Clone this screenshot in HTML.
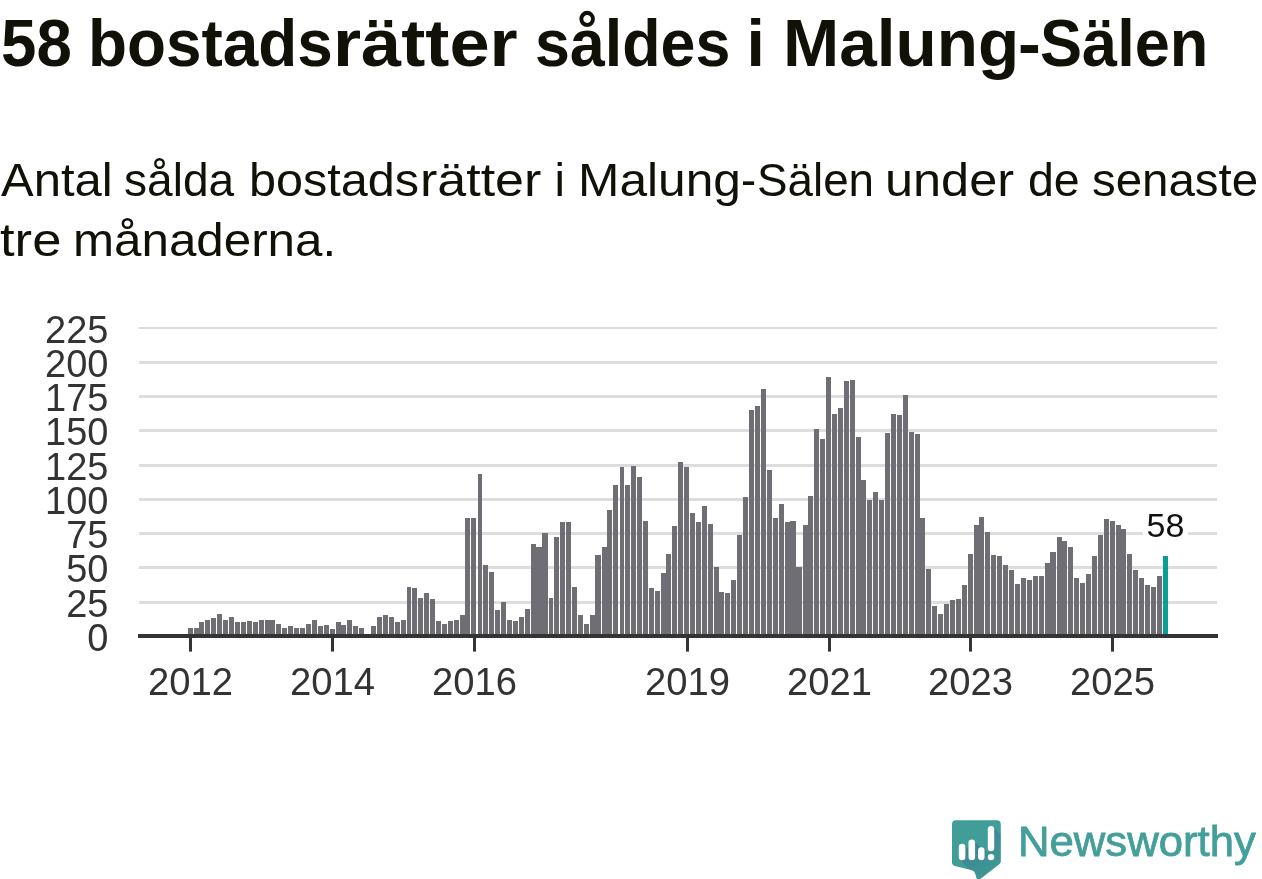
<!DOCTYPE html>
<html lang="sv">
<head>
<meta charset="utf-8">
<title>58 bostadsrätter såldes i Malung-Sälen</title>
<style>
html,body{margin:0;padding:0;background:#fff;}
body{width:1262px;height:879px;position:relative;overflow:hidden;font-family:"Liberation Sans", sans-serif;color:#111108;}
.w{position:absolute;top:0;white-space:nowrap;transform-origin:0 0;line-height:1;}
#title{font-weight:bold;font-size:66px;}
#sub1,#sub2{font-size:47px;}
#logot{font-size:42.5px;color:#449f9a;-webkit-text-stroke:0.8px #449f9a;}
.ln{position:absolute;left:0;height:0;width:1262px;margin:0;}
svg{position:absolute;left:0;top:0;}
.ax{font-family:"Liberation Sans", sans-serif;font-size:38px;fill:#333333;}
.xx{font-size:38.2px;}
.val{font-family:"Liberation Sans", sans-serif;font-size:34px;fill:#111;stroke:#fff;stroke-width:11px;paint-order:stroke;stroke-linejoin:round;}
</style>
</head>
<body>
<h1 class="ln" id="title" style="top:9.8px"><span class="w" style="left:0.77px;transform:scaleX(0.9652)">58</span> <span class="w" style="left:88.03px;transform:scaleX(0.9675)">bostads</span><span class="w" style="left:332.92px;transform:scaleX(1.0945)">rätter</span> <span class="w" style="left:534.75px;transform:scaleX(0.951)">såldes</span> <span class="w" style="left:746.6px;transform:scaleX(1.0)">i</span> <span class="w" style="left:783.11px;transform:scaleX(1.0224)">Malung</span><span class="w" style="left:1018.29px;transform:scaleX(1.0375)">-</span><span class="w" style="left:1040.39px;transform:scaleX(0.9565)">Sälen</span></h1>
<p class="ln" id="sub1" style="top:155.7px"><span class="w" style="left:0.5px;transform:scaleX(1.0433)">Antal</span> <span class="w" style="left:123.54px;transform:scaleX(0.98)">sålda</span> <span class="w" style="left:248.7px;transform:scaleX(1.0331)">bostads</span><span class="w" style="left:419.88px;transform:scaleX(1.1057)">rätter</span> <span class="w" style="left:554.6px;transform:scaleX(1.0)">i</span> <span class="w" style="left:577.97px;transform:scaleX(1.0571)">Malung</span><span class="w" style="left:741.17px;transform:scaleX(0.9667)">-</span><span class="w" style="left:756.55px;transform:scaleX(0.9739)">Sälen</span> <span class="w" style="left:885.08px;transform:scaleX(1.0733)">under</span> <span class="w" style="left:1027.72px;transform:scaleX(0.9896)">de</span> <span class="w" style="left:1092.38px;transform:scaleX(1.0093)">senaste</span></p>
<p class="ln" id="sub2" style="top:215.7px"><span class="w" style="left:-0.32px;transform:scaleX(1.1192)">tre</span> <span class="w" style="left:73.35px;transform:scaleX(1.0488)">månaderna.</span></p>
<div class="ln" id="logot" style="top:821.3px"><span class="w" style="left:1018.42px;transform:scaleX(1.0275)">Newsworthy</span></div>
<svg width="1262" height="879" viewBox="0 0 1262 879" shape-rendering="crispEdges">
<rect x="139" y="327" width="1078" height="2" fill="#dddddd"/>
<rect x="139" y="361" width="1078" height="3" fill="#dddddd"/>
<rect x="139" y="395" width="1078" height="3" fill="#dddddd"/>
<rect x="139" y="429" width="1078" height="3" fill="#dddddd"/>
<rect x="139" y="464" width="1078" height="3" fill="#dddddd"/>
<rect x="139" y="498" width="1078" height="3" fill="#dddddd"/>
<rect x="139" y="532" width="1078" height="3" fill="#dddddd"/>
<rect x="139" y="566" width="1078" height="3" fill="#dddddd"/>
<rect x="139" y="601" width="1078" height="3" fill="#dddddd"/>
<rect x="188" y="628" width="5" height="8" fill="#6f6e75"/>
<rect x="194" y="628" width="5" height="8" fill="#6f6e75"/>
<rect x="199" y="622" width="5" height="14" fill="#6f6e75"/>
<rect x="205" y="620" width="5" height="16" fill="#6f6e75"/>
<rect x="211" y="618" width="5" height="18" fill="#6f6e75"/>
<rect x="217" y="614" width="5" height="22" fill="#6f6e75"/>
<rect x="223" y="620" width="5" height="16" fill="#6f6e75"/>
<rect x="229" y="617" width="5" height="19" fill="#6f6e75"/>
<rect x="235" y="622" width="5" height="14" fill="#6f6e75"/>
<rect x="241" y="622" width="5" height="14" fill="#6f6e75"/>
<rect x="247" y="621" width="5" height="15" fill="#6f6e75"/>
<rect x="253" y="622" width="5" height="14" fill="#6f6e75"/>
<rect x="259" y="620" width="5" height="16" fill="#6f6e75"/>
<rect x="265" y="620" width="5" height="16" fill="#6f6e75"/>
<rect x="270" y="620" width="5" height="16" fill="#6f6e75"/>
<rect x="276" y="624" width="5" height="12" fill="#6f6e75"/>
<rect x="282" y="628" width="5" height="8" fill="#6f6e75"/>
<rect x="288" y="626" width="5" height="10" fill="#6f6e75"/>
<rect x="294" y="628" width="5" height="8" fill="#6f6e75"/>
<rect x="300" y="628" width="5" height="8" fill="#6f6e75"/>
<rect x="306" y="624" width="5" height="12" fill="#6f6e75"/>
<rect x="312" y="620" width="5" height="16" fill="#6f6e75"/>
<rect x="318" y="626" width="5" height="10" fill="#6f6e75"/>
<rect x="324" y="625" width="5" height="11" fill="#6f6e75"/>
<rect x="330" y="629" width="5" height="7" fill="#6f6e75"/>
<rect x="336" y="622" width="5" height="14" fill="#6f6e75"/>
<rect x="341" y="625" width="5" height="11" fill="#6f6e75"/>
<rect x="347" y="620" width="5" height="16" fill="#6f6e75"/>
<rect x="353" y="626" width="5" height="10" fill="#6f6e75"/>
<rect x="359" y="628" width="5" height="8" fill="#6f6e75"/>
<rect x="371" y="626" width="5" height="10" fill="#6f6e75"/>
<rect x="377" y="617" width="5" height="19" fill="#6f6e75"/>
<rect x="383" y="615" width="5" height="21" fill="#6f6e75"/>
<rect x="389" y="617" width="5" height="19" fill="#6f6e75"/>
<rect x="395" y="622" width="5" height="14" fill="#6f6e75"/>
<rect x="401" y="620" width="5" height="16" fill="#6f6e75"/>
<rect x="407" y="587" width="4" height="49" fill="#6f6e75"/>
<rect x="412" y="588" width="5" height="48" fill="#6f6e75"/>
<rect x="418" y="598" width="5" height="38" fill="#6f6e75"/>
<rect x="424" y="593" width="5" height="43" fill="#6f6e75"/>
<rect x="430" y="599" width="5" height="37" fill="#6f6e75"/>
<rect x="436" y="621" width="5" height="15" fill="#6f6e75"/>
<rect x="442" y="624" width="5" height="12" fill="#6f6e75"/>
<rect x="448" y="621" width="5" height="15" fill="#6f6e75"/>
<rect x="454" y="620" width="5" height="16" fill="#6f6e75"/>
<rect x="460" y="615" width="5" height="21" fill="#6f6e75"/>
<rect x="465" y="518" width="5" height="118" fill="#6f6e75"/>
<rect x="471" y="518" width="5" height="118" fill="#6f6e75"/>
<rect x="478" y="474" width="4" height="162" fill="#6f6e75"/>
<rect x="483" y="565" width="5" height="71" fill="#6f6e75"/>
<rect x="489" y="572" width="5" height="64" fill="#6f6e75"/>
<rect x="495" y="610" width="5" height="26" fill="#6f6e75"/>
<rect x="501" y="602" width="5" height="34" fill="#6f6e75"/>
<rect x="507" y="620" width="5" height="16" fill="#6f6e75"/>
<rect x="513" y="621" width="5" height="15" fill="#6f6e75"/>
<rect x="519" y="617" width="5" height="19" fill="#6f6e75"/>
<rect x="525" y="609" width="5" height="27" fill="#6f6e75"/>
<rect x="531" y="544" width="5" height="92" fill="#6f6e75"/>
<rect x="536" y="547" width="6" height="89" fill="#6f6e75"/>
<rect x="542" y="533" width="6" height="103" fill="#6f6e75"/>
<rect x="549" y="598" width="4" height="38" fill="#6f6e75"/>
<rect x="554" y="537" width="5" height="99" fill="#6f6e75"/>
<rect x="560" y="522" width="5" height="114" fill="#6f6e75"/>
<rect x="566" y="522" width="5" height="114" fill="#6f6e75"/>
<rect x="572" y="587" width="5" height="49" fill="#6f6e75"/>
<rect x="578" y="615" width="5" height="21" fill="#6f6e75"/>
<rect x="584" y="624" width="5" height="12" fill="#6f6e75"/>
<rect x="590" y="615" width="5" height="21" fill="#6f6e75"/>
<rect x="595" y="555" width="6" height="81" fill="#6f6e75"/>
<rect x="602" y="547" width="5" height="89" fill="#6f6e75"/>
<rect x="607" y="510" width="5" height="126" fill="#6f6e75"/>
<rect x="613" y="485" width="5" height="151" fill="#6f6e75"/>
<rect x="620" y="467" width="4" height="169" fill="#6f6e75"/>
<rect x="625" y="485" width="5" height="151" fill="#6f6e75"/>
<rect x="631" y="466" width="5" height="170" fill="#6f6e75"/>
<rect x="637" y="477" width="5" height="159" fill="#6f6e75"/>
<rect x="643" y="521" width="5" height="115" fill="#6f6e75"/>
<rect x="649" y="588" width="5" height="48" fill="#6f6e75"/>
<rect x="655" y="591" width="5" height="45" fill="#6f6e75"/>
<rect x="661" y="573" width="5" height="63" fill="#6f6e75"/>
<rect x="666" y="554" width="5" height="82" fill="#6f6e75"/>
<rect x="672" y="526" width="5" height="110" fill="#6f6e75"/>
<rect x="678" y="462" width="5" height="174" fill="#6f6e75"/>
<rect x="684" y="467" width="5" height="169" fill="#6f6e75"/>
<rect x="690" y="513" width="5" height="123" fill="#6f6e75"/>
<rect x="696" y="522" width="5" height="114" fill="#6f6e75"/>
<rect x="702" y="506" width="5" height="130" fill="#6f6e75"/>
<rect x="708" y="524" width="5" height="112" fill="#6f6e75"/>
<rect x="714" y="567" width="5" height="69" fill="#6f6e75"/>
<rect x="719" y="592" width="5" height="44" fill="#6f6e75"/>
<rect x="725" y="593" width="5" height="43" fill="#6f6e75"/>
<rect x="731" y="580" width="5" height="56" fill="#6f6e75"/>
<rect x="737" y="535" width="5" height="101" fill="#6f6e75"/>
<rect x="743" y="497" width="5" height="139" fill="#6f6e75"/>
<rect x="749" y="410" width="5" height="226" fill="#6f6e75"/>
<rect x="755" y="406" width="5" height="230" fill="#6f6e75"/>
<rect x="761" y="389" width="5" height="247" fill="#6f6e75"/>
<rect x="767" y="470" width="5" height="166" fill="#6f6e75"/>
<rect x="773" y="518" width="5" height="118" fill="#6f6e75"/>
<rect x="779" y="504" width="5" height="132" fill="#6f6e75"/>
<rect x="785" y="522" width="5" height="114" fill="#6f6e75"/>
<rect x="790" y="521" width="6" height="115" fill="#6f6e75"/>
<rect x="796" y="567" width="6" height="69" fill="#6f6e75"/>
<rect x="803" y="525" width="5" height="111" fill="#6f6e75"/>
<rect x="808" y="496" width="5" height="140" fill="#6f6e75"/>
<rect x="814" y="429" width="5" height="207" fill="#6f6e75"/>
<rect x="820" y="439" width="5" height="197" fill="#6f6e75"/>
<rect x="826" y="377" width="5" height="259" fill="#6f6e75"/>
<rect x="832" y="414" width="5" height="222" fill="#6f6e75"/>
<rect x="838" y="408" width="5" height="228" fill="#6f6e75"/>
<rect x="844" y="381" width="5" height="255" fill="#6f6e75"/>
<rect x="850" y="380" width="5" height="256" fill="#6f6e75"/>
<rect x="856" y="437" width="5" height="199" fill="#6f6e75"/>
<rect x="861" y="480" width="5" height="156" fill="#6f6e75"/>
<rect x="867" y="500" width="5" height="136" fill="#6f6e75"/>
<rect x="873" y="492" width="5" height="144" fill="#6f6e75"/>
<rect x="879" y="500" width="5" height="136" fill="#6f6e75"/>
<rect x="885" y="433" width="5" height="203" fill="#6f6e75"/>
<rect x="891" y="414" width="5" height="222" fill="#6f6e75"/>
<rect x="897" y="415" width="5" height="221" fill="#6f6e75"/>
<rect x="903" y="395" width="5" height="241" fill="#6f6e75"/>
<rect x="909" y="432" width="5" height="204" fill="#6f6e75"/>
<rect x="915" y="434" width="5" height="202" fill="#6f6e75"/>
<rect x="920" y="518" width="5" height="118" fill="#6f6e75"/>
<rect x="926" y="569" width="5" height="67" fill="#6f6e75"/>
<rect x="932" y="606" width="5" height="30" fill="#6f6e75"/>
<rect x="938" y="614" width="5" height="22" fill="#6f6e75"/>
<rect x="944" y="604" width="5" height="32" fill="#6f6e75"/>
<rect x="950" y="600" width="5" height="36" fill="#6f6e75"/>
<rect x="956" y="599" width="5" height="37" fill="#6f6e75"/>
<rect x="962" y="585" width="5" height="51" fill="#6f6e75"/>
<rect x="968" y="554" width="5" height="82" fill="#6f6e75"/>
<rect x="974" y="525" width="5" height="111" fill="#6f6e75"/>
<rect x="979" y="517" width="5" height="119" fill="#6f6e75"/>
<rect x="985" y="532" width="5" height="104" fill="#6f6e75"/>
<rect x="991" y="555" width="5" height="81" fill="#6f6e75"/>
<rect x="997" y="556" width="5" height="80" fill="#6f6e75"/>
<rect x="1003" y="565" width="5" height="71" fill="#6f6e75"/>
<rect x="1009" y="570" width="5" height="66" fill="#6f6e75"/>
<rect x="1015" y="584" width="5" height="52" fill="#6f6e75"/>
<rect x="1021" y="578" width="5" height="58" fill="#6f6e75"/>
<rect x="1027" y="580" width="5" height="56" fill="#6f6e75"/>
<rect x="1033" y="576" width="5" height="60" fill="#6f6e75"/>
<rect x="1039" y="576" width="5" height="60" fill="#6f6e75"/>
<rect x="1045" y="563" width="5" height="73" fill="#6f6e75"/>
<rect x="1050" y="552" width="6" height="84" fill="#6f6e75"/>
<rect x="1057" y="537" width="5" height="99" fill="#6f6e75"/>
<rect x="1062" y="541" width="5" height="95" fill="#6f6e75"/>
<rect x="1068" y="547" width="5" height="89" fill="#6f6e75"/>
<rect x="1074" y="578" width="5" height="58" fill="#6f6e75"/>
<rect x="1080" y="583" width="5" height="53" fill="#6f6e75"/>
<rect x="1086" y="574" width="5" height="62" fill="#6f6e75"/>
<rect x="1092" y="556" width="5" height="80" fill="#6f6e75"/>
<rect x="1098" y="535" width="5" height="101" fill="#6f6e75"/>
<rect x="1104" y="519" width="5" height="117" fill="#6f6e75"/>
<rect x="1110" y="521" width="5" height="115" fill="#6f6e75"/>
<rect x="1116" y="525" width="5" height="111" fill="#6f6e75"/>
<rect x="1121" y="529" width="5" height="107" fill="#6f6e75"/>
<rect x="1127" y="554" width="5" height="82" fill="#6f6e75"/>
<rect x="1133" y="570" width="5" height="66" fill="#6f6e75"/>
<rect x="1139" y="578" width="5" height="58" fill="#6f6e75"/>
<rect x="1145" y="585" width="5" height="51" fill="#6f6e75"/>
<rect x="1151" y="587" width="5" height="49" fill="#6f6e75"/>
<rect x="1157" y="576" width="5" height="60" fill="#6f6e75"/>
<rect x="1163" y="556" width="5" height="80" fill="#0b9e93"/>
<rect x="138" y="634" width="1080" height="4" fill="#333333"/>
<rect x="189.0" y="636" width="3" height="15.6" fill="#333333" shape-rendering="geometricPrecision"/>
<text x="190.5" y="694.6" text-anchor="middle" class="ax xx">2012</text>
<rect x="331.0" y="636" width="3" height="15.6" fill="#333333" shape-rendering="geometricPrecision"/>
<text x="332.5" y="694.6" text-anchor="middle" class="ax xx">2014</text>
<rect x="473.0" y="636" width="3" height="15.6" fill="#333333" shape-rendering="geometricPrecision"/>
<text x="474.5" y="694.6" text-anchor="middle" class="ax xx">2016</text>
<rect x="686.0" y="636" width="3" height="15.6" fill="#333333" shape-rendering="geometricPrecision"/>
<text x="687.5" y="694.6" text-anchor="middle" class="ax xx">2019</text>
<rect x="828.0" y="636" width="3" height="15.6" fill="#333333" shape-rendering="geometricPrecision"/>
<text x="829.5" y="694.6" text-anchor="middle" class="ax xx">2021</text>
<rect x="969.0" y="636" width="3" height="15.6" fill="#333333" shape-rendering="geometricPrecision"/>
<text x="970.5" y="694.6" text-anchor="middle" class="ax xx">2023</text>
<rect x="1111.0" y="636" width="3" height="15.6" fill="#333333" shape-rendering="geometricPrecision"/>
<text x="1112.5" y="694.6" text-anchor="middle" class="ax xx">2025</text>
<text x="108.5" y="342.9" text-anchor="end" class="ax">225</text>
<text x="108.5" y="377.4" text-anchor="end" class="ax">200</text>
<text x="108.5" y="411.4" text-anchor="end" class="ax">175</text>
<text x="108.5" y="445.4" text-anchor="end" class="ax">150</text>
<text x="108.5" y="480.4" text-anchor="end" class="ax">125</text>
<text x="108.5" y="514.4" text-anchor="end" class="ax">100</text>
<text x="108.5" y="548.4" text-anchor="end" class="ax">75</text>
<text x="108.5" y="582.4" text-anchor="end" class="ax">50</text>
<text x="108.5" y="617.4" text-anchor="end" class="ax">25</text>
<text x="108.5" y="650.9" text-anchor="end" class="ax">0</text>
<text x="1165.5" y="536.7" text-anchor="middle" class="val">58</text>
<g shape-rendering="geometricPrecision">
<g>
<defs>
<clipPath id="bc"><path d="M956 820.2 H996.8 a4 4 0 0 1 4 4 V861.5 a3 3 0 0 1 -1.2 2.4 L979.5 879.6 h-2.6 L975.2 873.5 a4.5 4.5 0 0 0 -3.2 -3.2 L955 866 a4 4 0 0 1 -3 -3.9 V824.2 a4 4 0 0 1 4 -4 Z"/></clipPath>
<linearGradient id="sh" gradientUnits="userSpaceOnUse" x1="960" y1="836" x2="996" y2="872"><stop offset="0" stop-color="#2f5f86" stop-opacity="0.5"/><stop offset="1" stop-color="#2f5f86" stop-opacity="0.06"/></linearGradient>
</defs>
<path d="M956 820.2 H996.8 a4 4 0 0 1 4 4 V861.5 a3 3 0 0 1 -1.2 2.4 L979.5 879.6 h-2.6 L975.2 873.5 a4.5 4.5 0 0 0 -3.2 -3.2 L955 866 a4 4 0 0 1 -3 -3.9 V824.2 a4 4 0 0 1 4 -4 Z" fill="#419d98"/>
<g clip-path="url(#bc)">
<path fill="url(#sh)" d="M959.8 844.8 L965.1 845.8 L1005.4 885.8 L1005.4 900.2 L998.8 900.2 L959.8 859.2 Z M969.5 840.4 L974.8 841.4 L1015.1 881.4 L1015.1 900.2 L1008.5 900.2 L969.5 859.2 Z M979.1 848.3 L984.2 849.2 L1024.5 889.2 L1024.5 900.2 L1018.1 900.2 L979.1 859.2 Z M988.8 827.1 L993.9 828.0 L1034.2 868.0 L1034.2 900.3 L1027.8 900.3 L988.8 859.3 Z"/>
</g>
<rect x="958.8" y="843.8" width="6.6" height="16.4" rx="3.3" fill="#fff"/>
<rect x="968.5" y="839.4" width="6.6" height="20.8" rx="3.3" fill="#fff"/>
<rect x="978.1" y="847.3" width="6.4" height="12.9" rx="3.2" fill="#fff"/>
<rect x="987.8" y="826.1" width="6.4" height="25.2" rx="3.2" fill="#fff"/>
<rect x="987.8" y="853.9" width="6.4" height="6.4" rx="3" fill="#fff"/>
</g>
</g>
</svg>
</body>
</html>
